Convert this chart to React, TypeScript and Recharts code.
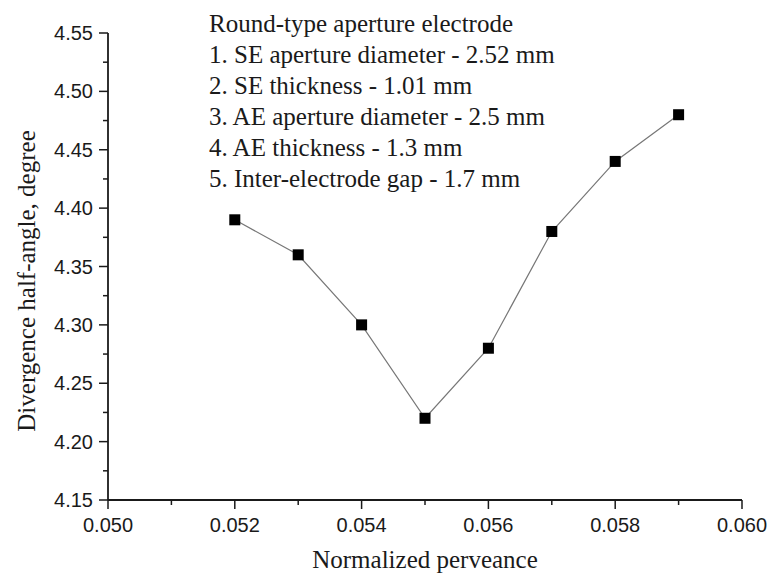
import { LineChart, Line, XAxis, YAxis } from "recharts"

const perveance = [0.052, 0.053, 0.054, 0.055, 0.056, 0.057, 0.058, 0.059]
const halfAngle = [4.39, 4.36, 4.3, 4.22, 4.28, 4.38, 4.44, 4.48]

const xMajor = [0.05, 0.052, 0.054, 0.056, 0.058, 0.06]
const xTicks = [0.05, 0.051, 0.052, 0.053, 0.054, 0.055, 0.056, 0.057, 0.058, 0.059, 0.06]
const yMajor = [4.15, 4.2, 4.25, 4.3, 4.35, 4.4, 4.45, 4.5, 4.55]
const yTicks = [
  4.15, 4.175, 4.2, 4.225, 4.25, 4.275, 4.3, 4.325, 4.35, 4.375, 4.4, 4.425, 4.45, 4.475, 4.5, 4.525,
  4.55,
]

const notes = [
  "Round-type aperture electrode",
  "1. SE aperture diameter - 2.52 mm",
  "2. SE thickness - 1.01 mm",
  "3. AE aperture diameter - 2.5 mm",
  "4. AE thickness - 1.3 mm",
  "5. Inter-electrode gap - 1.7 mm",
]

const data = perveance.map((x, i) => ({ x, y: halfAngle[i] }))

const isMajor = (list: number[], v: number) => list.some((m) => Math.abs(m - v) < 1e-9)

const sans = "'Liberation Sans', Arial, sans-serif"
const serif = "'Liberation Serif', 'Times New Roman', serif"
const ink = "#1a1a1a"

function XTick(props: any) {
  const { x, y, payload } = props
  const major = isMajor(xMajor, payload.value)
  return (
    <g>
      <line x1={x} x2={x} y1={y} y2={y + (major ? 9 : 5)} stroke={ink} strokeWidth={1.5} />
      {major && (
        <text x={x} y={y + 32} textAnchor="middle" fontFamily={sans} fontSize={20} fill={ink}>
          {payload.value.toFixed(3)}
        </text>
      )}
    </g>
  )
}

function YTick(props: any) {
  const { x, y, payload } = props
  const major = isMajor(yMajor, payload.value)
  return (
    <g>
      <line x1={x - (major ? 9 : 5)} x2={x} y1={y} y2={y} stroke={ink} strokeWidth={1.5} />
      {major && (
        <text x={x - 15} y={y + 7} textAnchor="end" fontFamily={sans} fontSize={20} fill={ink}>
          {payload.value.toFixed(2)}
        </text>
      )}
    </g>
  )
}

function SquareDot(props: any) {
  const { cx, cy } = props
  if (cx == null || cy == null) return null
  return <rect x={cx - 5.5} y={cy - 5.5} width={11} height={11} fill="#000" />
}

export default function App() {
  return (
    <div style={{ position: "absolute", left: 0, top: 0, width: 768, height: 576, background: "#fff" }}>
      <LineChart width={768} height={576} data={data} margin={{ top: 33, right: 26, bottom: 0, left: 0 }}>
        <XAxis
          type="number"
          dataKey="x"
          domain={[0.05, 0.06]}
          ticks={xTicks}
          interval={0}
          height={76}
          tickSize={0}
          tickMargin={0}
          tickLine={false}
          tick={<XTick />}
          axisLine={{ stroke: ink, strokeWidth: 1.8 }}
        />
        <YAxis
          type="number"
          domain={[4.15, 4.55]}
          ticks={yTicks}
          interval={0}
          width={108}
          tickSize={0}
          tickMargin={0}
          tickLine={false}
          tick={<YTick />}
          axisLine={{ stroke: ink, strokeWidth: 1.8 }}
        />
        <Line
          type="linear"
          dataKey="y"
          stroke="#777"
          strokeWidth={1.2}
          dot={<SquareDot />}
          activeDot={false}
          isAnimationActive={false}
        />
      </LineChart>
      <svg
        width={768}
        height={576}
        style={{ position: "absolute", left: 0, top: 0, pointerEvents: "none" }}
      >
        {notes.map((t, i) => (
          <text key={i} x={209} y={32 + i * 31} fontFamily={serif} fontSize={25} fill={ink}>
            {t}
          </text>
        ))}
        <text x={425} y={568} textAnchor="middle" fontFamily={serif} fontSize={25} fill={ink}>
          Normalized perveance
        </text>
        <text
          x={35}
          y={281}
          textAnchor="middle"
          transform="rotate(-90 35 281)"
          fontFamily={serif}
          fontSize={25}
          fill={ink}
        >
          Divergence half-angle, degree
        </text>
      </svg>
    </div>
  )
}
